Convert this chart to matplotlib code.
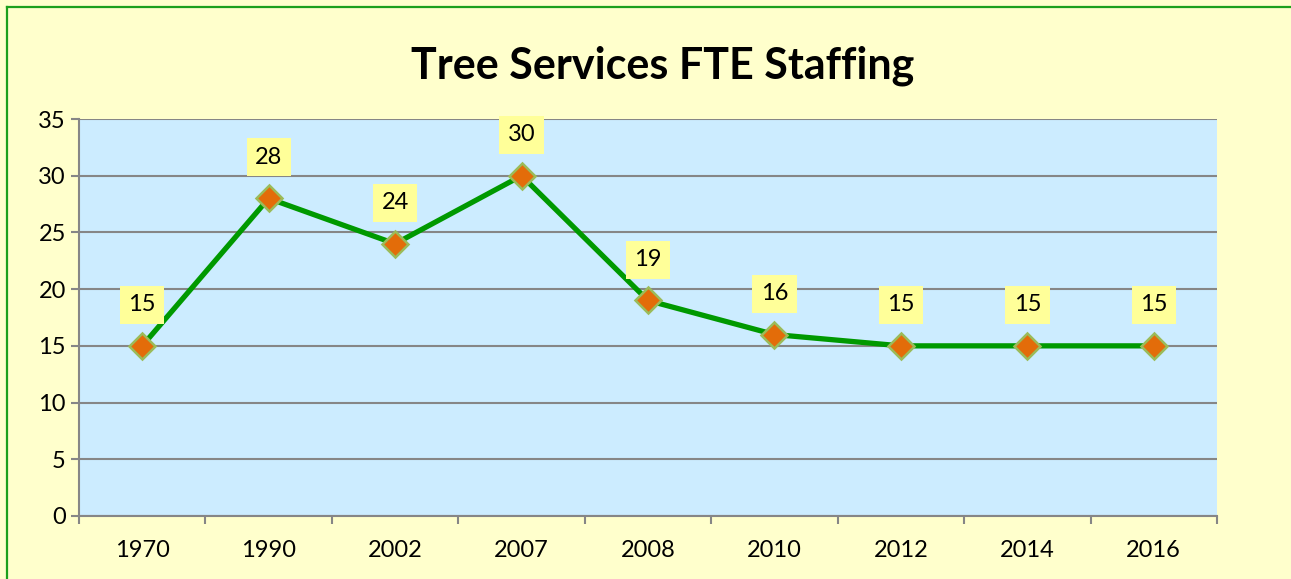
import matplotlib
matplotlib.use("Agg")
import matplotlib.pyplot as plt
from matplotlib.lines import Line2D
import numpy as np

years = ["1970", "1990", "2002", "2007", "2008", "2010", "2012", "2014", "2016"]
fte = [15, 28, 24, 30, 19, 16, 15, 15, 15]
yticks = [0, 5, 10, 15, 20, 25, 30, 35]
title = "Tree Services FTE Staffing"

plt.rcParams['font.family'] = ['Lato', 'DejaVu Sans']

W, H = 1291, 579
fig = plt.figure(figsize=(W / 100, H / 100), dpi=100)
fig.patch.set_facecolor("#FFFFCC")

ax = fig.add_axes([79 / W, 1 - 516 / H, (1217 - 79) / W, (516 - 119) / H])
ax.set_facecolor("#CCECFF")

x = np.arange(len(years))
ax.plot(x, fte, color="#009900", lw=3.8, zorder=3, solid_capstyle="round")
ax.plot(x, fte, linestyle="none", marker="D", markersize=13.5,
        markerfacecolor="#E36C09", markeredgecolor="#9BBB59", markeredgewidth=1.8, zorder=4)

for xi, v in zip(x, fte):
    ax.annotate(str(v), (xi, v), xytext=(0, 29.5), textcoords="offset points",
                ha="center", va="center", fontsize=17, color="black",
                bbox=dict(boxstyle="square,pad=0.36", fc="#FFFF99", ec="none"), zorder=5)

ax.set_xlim(-0.5, len(years) - 0.5)
ax.set_ylim(0, 35)
ax.set_yticks(yticks)
ax.set_yticklabels([str(t) for t in yticks])
ax.set_xticks(x)
ax.set_xticklabels(years)
ax.set_xticks(np.arange(-0.5, len(years), 1.0), minor=True)

ax.tick_params(axis="x", which="major", length=0, pad=17, labelsize=17)
ax.tick_params(axis="x", which="minor", length=6, width=1.5, color="#868686", direction="out")
ax.tick_params(axis="y", which="major", length=5.5, width=1.5, color="#868686", pad=4, labelsize=17)

ax.grid(axis="y", color="#868686", lw=1.5, zorder=1)
ax.set_axisbelow(True)
for s in ["top", "right"]:
    ax.spines[s].set_visible(False)
for s in ["left", "bottom"]:
    ax.spines[s].set_color("#868686")
    ax.spines[s].set_linewidth(1.5)

fig.text(663 / W, 1 - 66 / H, title, ha="center", va="center",
         fontsize=31, fontweight="bold", color="black")

# outer green border (top and left visible)
fig.add_artist(Line2D([6.5 / W, 6.5 / W], [0, 1 - 6.5 / H], color="#1BA01B", lw=1.6,
                      transform=fig.transFigure))
fig.add_artist(Line2D([6.5 / W, 1], [1 - 6.5 / H, 1 - 6.5 / H], color="#1BA01B", lw=1.6,
                      transform=fig.transFigure))

fig.savefig("out.png", dpi=100, facecolor=fig.get_facecolor())
